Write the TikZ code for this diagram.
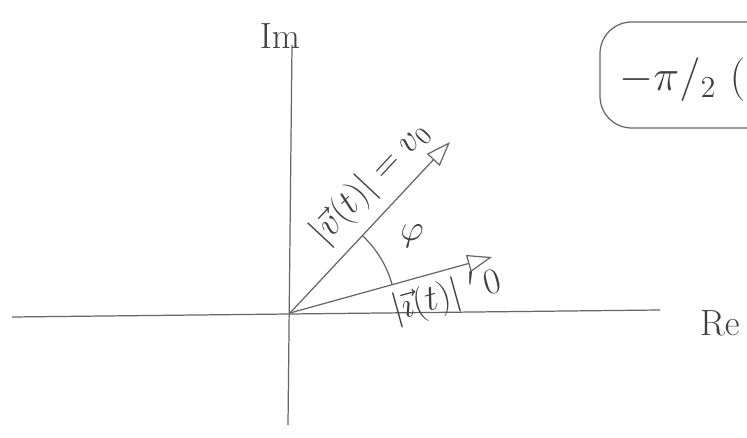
\documentclass[tikz,border=0pt]{standalone}
\usepackage{amsmath, amssymb}
\usetikzlibrary{arrows.meta}

\begin{document}
\begin{tikzpicture}[x=0.02cm, y=-0.02cm, pencil/.style={draw=black!60, line width=0.7pt},
    phasor/.style={pencil, -{Triangle[open, length=14pt, width=10pt]}},
    hand/.style={text=black!75, font=\huge}]
    \clip (0,0) rectangle (747,438);
    \fill[white] (0,0) rectangle (747,438);

    % Draw axes
    \coordinate (reL) at (12,317);
    \coordinate (reR) at (660,310);
    \coordinate (imB) at (288,425);
    \coordinate (imT) at (292,45);
    \draw[pencil] (reL) -- (reR);
    \draw[pencil] (imB) -- (imT);
    \node[hand] (im) at (280,36) {$\mathrm{Im}$};
    \node[hand] (re) at (720,323) {$\mathrm{Re}$};

    % Draw phasors
    \coordinate (O) at (290,313);
    \coordinate (vtip) at (450,142);
    \coordinate (itip) at (492,257);
    \draw[phasor] (O) -- (vtip)
        node[hand, pos=0.64, sloped, above=3pt] (vlab) {$|\vec{v}(t)| = v_0$};
    \draw[phasor] (O) -- (itip)
        node[hand, pos=0.74, sloped, below=1pt] (ilab) {$|\vec{\imath}(t)|\ {}'\,0$};

    % Angle (y axis points down here)
    \draw[pencil] (O) ++(-47:106) arc[start angle=-47, end angle=-15.5, radius=106];
    \node[hand] (phi) at (412,236) {$\varphi$};

    % Box
    \draw[pencil, rounded corners=18pt] (600,22) rectangle (790,128);
    \node[hand, anchor=west, scale=1.2] (box) at (612,80) {$-\pi/_{2}\ ($};
\end{tikzpicture}
\end{document}
